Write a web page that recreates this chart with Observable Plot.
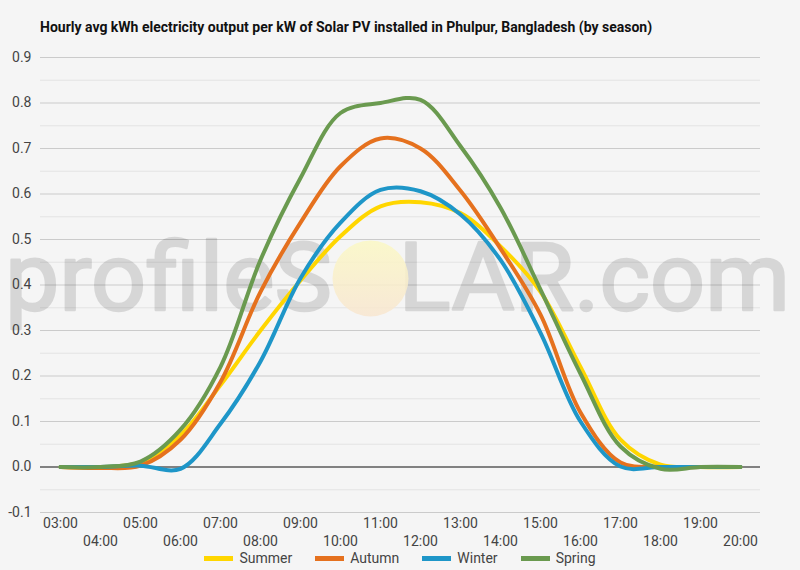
<!DOCTYPE html>
<html><head><meta charset="utf-8">
<script src="https://cdn.jsdelivr.net/npm/d3@7"></script>
<script src="https://cdn.jsdelivr.net/npm/@observablehq/plot@0.6"></script>
<style>
html,body{margin:0;padding:0;background:#f5f5f5;}
body{width:800px;height:570px;position:relative;overflow:hidden;font-family:Roboto,sans-serif;}
#title{position:absolute;left:40px;top:19px;font-weight:bold;font-size:14px;color:#111;white-space:nowrap;}
#chart{position:absolute;left:0;top:45px;}
#legend{position:absolute;top:550px;left:0;width:800px;display:flex;justify-content:center;gap:23px;font-size:14px;color:#444;}
#legend .item{display:flex;align-items:center;gap:6px;}
#legend .sw{width:29px;height:5px;display:inline-block;}
</style>
</head><body>
<div id="title">Hourly avg kWh electricity output per kW of Solar PV installed in Phulpur, Bangladesh (by season)</div>
<div id="chart"></div>
<div id="legend"></div>
<script>
const hours = ["03:00","04:00","05:00","06:00","07:00","08:00","09:00","10:00","11:00","12:00","13:00","14:00","15:00","16:00","17:00","18:00","19:00","20:00"];
const seasons = ["Summer","Autumn","Winter","Spring"];
const colors = ["#ffd600","#e5711e","#1e96c8","#6a9a4f"];
const summer = [0, 0, 0.010, 0.070, 0.180, 0.300, 0.410, 0.507, 0.573, 0.582, 0.558, 0.485, 0.385, 0.220, 0.060, 0.005, 0, 0];
const autumn = [0, -0.002, 0.003, 0.060, 0.187, 0.385, 0.537, 0.661, 0.722, 0.700, 0.607, 0.480, 0.335, 0.120, 0.010, 0, 0, 0];
const winter = [0, 0, 0.003, -0.004, 0.095, 0.232, 0.415, 0.537, 0.609, 0.606, 0.555, 0.455, 0.295, 0.100, 0.001, 0, 0, 0];
const spring = [0, 0, 0.012, 0.082, 0.220, 0.455, 0.635, 0.778, 0.800, 0.807, 0.705, 0.570, 0.390, 0.205, 0.045, -0.004, 0, 0];
const yMajor = [-0.1, 0, 0.1, 0.2, 0.3, 0.4, 0.5, 0.6, 0.7, 0.8, 0.9];
const yMinor = [-0.05, 0.05, 0.15, 0.25, 0.35, 0.45, 0.55, 0.65, 0.75, 0.85];

const series = [summer, autumn, winter, spring];
const data = [];
seasons.forEach((s, i) => hours.forEach((h, j) => data.push({season: s, hour: h, value: series[i][j]})));
const oddHours = hours.filter((h, i) => i % 2 === 0);
const evenHours = hours.filter((h, i) => i % 2 === 1);

function watermark(index, scales, values, dimensions) {
  const g = d3.create("svg:g");
  const defs = g.append("defs");
  const grad = defs.append("linearGradient").attr("id", "sunGrad").attr("x1", 0).attr("y1", 0).attr("x2", 0).attr("y2", 1);
  grad.append("stop").attr("offset", "0%").attr("stop-color", "#fbf8c4");
  grad.append("stop").attr("offset", "100%").attr("stop-color", "#f8e6d0");
  const tg = g.append("g").attr("opacity", 0.12);
  const t = tg.append("text")
    .attr("x", 5).attr("y", 265)
    .attr("text-anchor", "start")
    .attr("font-family", "Roboto, sans-serif")
    .attr("font-size", 95)
    .attr("textLength", 785).attr("lengthAdjust", "spacingAndGlyphs")
    .attr("fill", "#000").attr("stroke", "#000").attr("stroke-width", 2.5).attr("stroke-linejoin", "round");
  t.append("tspan").text("profileS");
  t.append("tspan").attr("fill-opacity", 0).attr("stroke-opacity", 0).text("O");
  t.append("tspan").text("LAR.com");
  g.append("circle").attr("cx", 370.5).attr("cy", 233.5).attr("r", 38)
    .attr("fill", "url(#sunGrad)").attr("fill-opacity", 0.85);
  return g.node();
}

const chart = Plot.plot({
  width: 800, height: 503,
  marginLeft: 40, marginRight: 40, marginTop: 12, marginBottom: 36,
  style: {background: "transparent", fontFamily: "Roboto, sans-serif", fontSize: "14px", color: "#444"},
  x: {type: "point", domain: hours, padding: 0.5},
  y: {domain: [-0.1, 0.9]},
  color: {domain: seasons, range: colors},
  marks: [
    Plot.ruleY(yMinor, {stroke: "#e3e3e3", strokeWidth: 1}),
    Plot.ruleY(yMajor, {stroke: "#cbcbcb", strokeWidth: 1}),
    watermark,
    Plot.ruleY([0], {stroke: "#222", strokeWidth: 1}),
    Plot.axisY(yMajor, {tickSize: 0, tickPadding: 9, tickFormat: d => d.toFixed(1), fill: "#444", label: null}),
    Plot.axisX(oddHours, {tickSize: 0, tickPadding: 6, fill: "#444", label: null}),
    Plot.axisX(evenHours, {tickSize: 0, tickPadding: 24, fill: "#444", label: null}),
    Plot.line(data, {x: "hour", y: "value", z: "season", stroke: "season", curve: "catmull-rom", strokeWidth: 4, strokeLinecap: "round", strokeLinejoin: "round"})
  ]
});
document.getElementById("chart").appendChild(chart);

const legend = d3.select("#legend");
seasons.forEach((s, i) => {
  const it = legend.append("div").attr("class", "item");
  it.append("span").attr("class", "sw").style("background", colors[i]);
  it.append("span").text(s);
});
</script>
</body></html>
